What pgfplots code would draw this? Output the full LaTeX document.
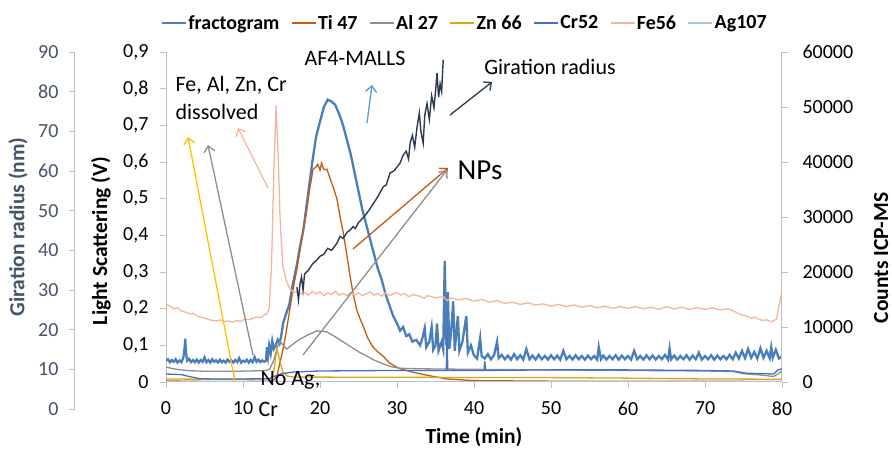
\documentclass[border=0pt]{standalone}
\usepackage{fontspec}
\setmainfont{Carlito}
\usepackage{pgfplots}
\pgfplotsset{compat=1.18}
\usetikzlibrary{arrows.meta}

\definecolor{fracblue}{HTML}{4A7EBB}
\definecolor{tiorange}{HTML}{C55A11}
\definecolor{algray}{HTML}{8E8E8E}
\definecolor{zngold}{HTML}{DBA514}
\definecolor{crblue}{HTML}{4472C4}
\definecolor{fesalmon}{HTML}{F4B59C}
\definecolor{aglav}{HTML}{AFC2E6}
\definecolor{girnavy}{HTML}{2B3A4E}
\definecolor{slate}{HTML}{44546A}
\definecolor{axgray}{HTML}{BFBFBF}
\definecolor{arrgold}{HTML}{FFC000}
\definecolor{arrblue}{HTML}{5B9BD5}

\pgfplotsset{
  common/.style={
    scale only axis, width=616pt, height=330pt,
    xmin=0, xmax=80,
    axis line style={axgray, line width=1pt},
    tick style={axgray, line width=0.8pt},
    tick align=outside, major tick length=6pt,
    ticklabel style={font=\fontsize{20}{24}\selectfont},
    label style={font=\bfseries\fontsize{21.5}{26}\selectfont},
    /pgf/number format/assume math mode=true,
    /pgf/number format/use comma,
    /pgf/number format/1000 sep={},
  },
}

\begin{document}
\begin{tikzpicture}
\useasboundingbox (0,0) rectangle (892pt,449pt);

% light scattering axis (fractogram)
\begin{axis}[common, at={(166pt,67pt)}, anchor=south west,
  ymin=0, ymax=0.9,
  ytick={0,0.1,0.2,0.3,0.4,0.5,0.6,0.7,0.8,0.9},
  yticklabel style={/pgf/number format/fixed, /pgf/number format/precision=1, xshift=-8pt},
  xticklabel style={yshift=-10pt},
  xtick={0,10,20,30,40,50,60,70,80},
  axis x line*=bottom, axis y line*=left,
  xlabel={Time (min)},
  x label style={at={(axis description cs:0.5,-0.167)}, anchor=center},
  ylabel={Light Scattering (V)},
  y label style={at={(axis description cs:-0.1055,0.427)}, anchor=center},
]
\addplot[fracblue, line width=2.3pt] coordinates {
(0,.058)(.25,.062)(.5,.054)(.75,.06)(1,.055)(1.25,.062)(1.5,.053)(1.75,.059)(2,.054)(2.25,.066)(2.4,.09)(2.5,.118)(2.6,.08)(2.75,.058)
(3,.063)(3.25,.054)(3.5,.06)(3.75,.054)(4,.061)(4.25,.053)(4.5,.06)(4.75,.055)(5,.067)(5.25,.054)(5.5,.06)(5.75,.053)(6,.062)(6.25,.055)
(6.5,.059)(6.75,.053)(7,.061)(7.25,.054)(7.5,.058)(7.75,.053)(8,.061)(8.25,.055)(8.5,.059)(8.75,.053)(9,.06)(9.25,.054)(9.5,.065)(9.75,.053)
(10,.058)(10.25,.055)(10.5,.061)(10.75,.053)(11,.06)(11.25,.054)(11.5,.068)(11.75,.055)(12,.061)(12.25,.054)(12.5,.059)(12.75,.055)
(13,.058)(13.1,.095)(13.25,.07)(13.4,.1)(13.6,.078)(13.8,.112)(14,.09)(14.25,.1)(14.5,.115)(14.75,.105)(15,.13)(15.2,.16)(15.5,.18)
(16,.21)(16.5,.27)(17,.32)(17.5,.38)(17.8,.41)(18,.44)(18.5,.52)(19,.6)(19.5,.67)(20,.71)(20.5,.75)(21,.77)(21.5,.765)(22,.755)
(22.5,.73)(23,.7)(23.5,.66)(24,.62)(24.5,.57)(25,.52)(25.5,.47)(26,.43)(26.5,.39)(27,.35)(27.5,.31)(28,.28)(28.5,.24)(29,.21)
(29.5,.18)(30,.16)(30.4,.14)(30.8,.15)(31.2,.125)(31.6,.13)(32,.11)(32.5,.115)(33,.1)(33.3,.12)(33.6,.147)(33.8,.095)(34.2,.11)
(34.5,.15)(34.7,.088)(35,.1)(35.2,.16)(35.4,.085)(35.8,.11)(36,.09)(36.2,.33)(36.4,.1)(36.6,.245)(36.8,.09)(37,.13)(37.3,.22)
(37.5,.085)(37.9,.18)(38.1,.085)(38.5,.11)(39,.18)(39.2,.08)(39.6,.1)(40,.072)(40.4,.064)(40.8,.12)(41,.07)(41.4,.064)(41.8,.076)
(42.2,.062)(42.6,.073)(43,.11)(43.2,.065)(43.6,.074)(44,.062)(44.4,.072)(44.8,.061)(45.2,.076)(45.6,.062)(46,.073)(46.4,.061)(46.8,.09)
(47.2,.062)(47.6,.072)(48,.061)(48.4,.074)(48.8,.062)(49.2,.071)(49.6,.061)(50,.073)(50.4,.062)(50.8,.072)(51.2,.061)(51.6,.085)(52,.062)
(52.4,.071)(52.8,.061)(53.2,.073)(53.6,.062)(54,.071)(54.4,.061)(54.8,.072)(55.2,.062)(55.6,.071)(56,.061)(56.2,.095)(56.5,.062)(56.8,.072)
(57.2,.061)(57.6,.071)(58,.062)(58.4,.073)(58.8,.061)(59.2,.072)(59.6,.062)(60,.071)(60.4,.061)(60.8,.085)(61.2,.062)(61.6,.071)(62,.061)
(62.4,.073)(62.8,.062)(63.2,.072)(63.6,.061)(64,.071)(64.4,.062)(64.8,.074)(65.2,.061)(65.4,.092)(65.6,.062)(66,.072)(66.4,.061)(66.8,.071)
(67.2,.062)(67.6,.073)(68,.061)(68.4,.072)(68.8,.062)(69.2,.08)(69.6,.061)(70,.071)(70.4,.062)(70.8,.073)(71.2,.061)(71.6,.072)(72,.062)
(72.4,.071)(72.8,.062)(73.2,.074)(73.6,.062)(74,.08)(74.4,.064)(74.8,.085)(75.2,.065)(75.6,.09)(76,.066)(76.4,.082)(76.8,.064)(77.2,.092)
(77.6,.066)(78,.085)(78.4,.065)(78.6,.095)(78.8,.066)(79.2,.088)(79.6,.064)(80,.07)};
\end{axis}

% ICP-MS counts axis
\begin{axis}[common, at={(166pt,67pt)}, anchor=south west,
  ymin=0, ymax=60000, ytick={0,10000,20000,30000,40000,50000,60000},
  scaled y ticks=false,
  yticklabel style={xshift=11pt},
  axis y line*=right, axis x line=none,
  ylabel={Counts ICP-MS},
  y label style={at={(axis description cs:1.161,0.376)}, anchor=center},
  legend columns=-1,
  legend style={at={(axis description cs:0.485,1.088)}, anchor=center, draw=none, fill=none,
    font=\bfseries\fontsize{20}{24}\selectfont,
    nodes={inner sep=1.5pt},
    /tikz/every even column/.append style={column sep=10pt}},
  legend image code/.code={\draw[#1, line width=1.6pt] (0pt,0pt) -- (24pt,0pt);},
]
\addlegendimage{fracblue}
\addlegendentry{fractogram}
\addplot[tiorange, line width=1.3pt] coordinates {
(0,200)(2,150)(5,100)(10,100)(13.5,150)(14,400)(14.4,1100)(14.8,3500)(15.2,6000)(15.6,9000)(16,12500)(16.5,16900)(17,20500)
(17.4,24000)(17.8,27300)(18.2,30500)(18.6,34500)(19.1,38700)(19.4,39000)(19.7,39600)(20,38500)(20.2,39800)(20.5,38600)(20.9,38700)
(21.3,37000)(21.7,35500)(22.2,33300)(22.6,30000)(23,27300)(23.5,23000)(23.9,19300)(24.3,16000)(24.8,13000)(25.2,11500)(25.6,10200)
(26.2,8000)(26.8,6500)(27.5,5500)(28.2,4700)(29,3500)(29.7,2900)(30.4,2400)(32,1800)(34,1200)(36.5,550)(40,250)(50,150)(80,100)};
\addlegendentry{Ti 47}
\addplot[algray, line width=1.3pt] coordinates {
(0,2700)(1,2400)(2,2200)(3,2050)(5,1950)(8.7,1950)(11,2000)(13,2100)(13.5,2400)(14,4000)(14.4,6000)(14.8,7400)(15.2,6700)(15.7,6000)
(16.5,6900)(17.4,7800)(18.5,8600)(19.6,9300)(20.9,9100)(22,8200)(23,7300)(23.9,6500)(25,5500)(26.1,4700)(27,4000)(28.2,3300)
(29.2,2800)(30.4,2500)(33,2400)(40,2300)(50,2200)(60,2100)(70,2000)(73.7,1900)(75,1500)(77,1300)(78.9,1000)(79.5,1500)(80,2000)};
\addlegendentry{Al 27}
\addplot[zngold, line width=1.3pt] coordinates {
(0,550)(5,500)(10,500)(13.5,600)(13.9,1100)(14.2,4000)(14.4,6000)(14.6,5000)(14.8,3600)(15.2,1800)(15.7,1100)(16.5,900)(30,850)
(50,800)(60,700)(70,550)(80,500)};
\addlegendentry{Zn 66}
\addplot[crblue, line width=1.3pt] coordinates {
(0,1450)(1,1400)(2,1350)(3,1000)(4.4,600)(6,550)(10,550)(13.5,600)(14,1000)(15,1500)(16.5,1800)(20,2000)(30,2100)(36.4,2100)
(36.5,9000)(36.6,2100)(41.3,2100)(41.4,3800)(41.5,2100)(50,2200)(60,2200)(70,2100)(73.7,2000)(75.4,1600)(78.9,1450)(79.5,2200)(80,2400)};
\addlegendentry{Cr52}
\addplot[fesalmon, line width=1.3pt] coordinates {
(0,14200)(0.5,13800)(1,13300)(1.5,13500)(2,12900)(2.5,12700)(3.1,12400)(3.5,12500)(4,12000)(4.5,11800)(5,11600)(5.5,11400)(6,11200)
(6.6,11100)(7,11300)(7.5,11000)(8,11100)(8.7,10900)(9.2,11200)(9.7,11000)(10.2,11400)(10.7,11300)(11.3,11600)(11.8,11800)(12.3,11700)
(12.7,12100)(13.1,12400)(13.4,13300)(13.7,21000)(14,38000)(14.3,50200)(14.6,40000)(14.8,30200)(15,25000)(15.2,21000)(15.6,18500)
(16.1,16900)(16.6,16300)(17,16400)(17.5,16000)(18,16300)(18.5,15800)(19,16500)(19.5,16000)(20,16400)(20.5,15700)(21,16200)(21.5,15900)
(22,16500)(22.5,15800)(23,16100)(23.5,15700)(24,16300)(24.5,15800)(25,16200)(25.5,15700)(26,16000)(26.5,16400)(27,15800)(27.5,16100)
(28,15600)(28.5,16200)(29,15700)(29.5,16000)(30,16300)(30.5,15800)(31,16100)(31.5,15500)(32,15900)(33,15600)(33.5,15200)(34,15700)
(35,15300)(36,15500)(36.5,14800)(37,15300)(38,14900)(39,15200)(40,14700)(41,15000)(42,14500)(43,14800)(44,14300)(45,14500)(46,14100)
(47,14400)(48,14000)(49,14200)(50,13800)(51,14100)(52,13700)(53,14000)(54,13600)(55,13900)(56,13500)(57,13800)(58,13400)(59,13700)
(60,13400)(61,13700)(62,13300)(63,13600)(64,13200)(65,13700)(66,13300)(67,13600)(68,13200)(69,13500)(70,13200)(71,13500)(72,13100)
(73,13300)(73.7,12900)(74.5,12300)(75.4,12000)(76,11600)(76.5,11800)(77,11400)(77.5,11200)(78,11300)(78.5,11000)(78.9,11100)
(79.3,11500)(79.7,14500)(80,16500)};
\addlegendentry{Fe56}
\addplot[aglav, line width=1.3pt] coordinates {(0,100)(80,100)};
\addlegendentry{Ag107}
\end{axis}

% giration radius data
\begin{axis}[common, at={(166pt,40pt)}, anchor=south west, height=357pt,
  ymin=0, ymax=90, hide axis]
\addplot[girnavy, line width=1.4pt] coordinates {
(17,30.7)(17.2,27.5)(17.4,31.5)(17.6,33.3)(17.8,30)(18,34)(18.5,35)(19,36.5)(19.6,37.6)(20,38.5)(20.5,39)(21,40.5)(21.5,40)
(22.2,41.8)(22.6,43.5)(23,43)(23.5,44.5)(23.9,45.1)(24.3,46)(24.6,45.5)(25,47)(25.5,48)(26.1,49.4)(26.5,50.5)(27,52)(27.5,53.5)
(28.2,56)(28.6,56.5)(29.1,59.5)(29.6,60)(30,61)(30.4,62)(30.8,64)(31.2,65)(31.5,63)(31.7,67)(32,69)(32.3,66)(32.6,71)(32.9,74.6)
(33.1,70)(33.4,67)(33.6,74)(33.9,77)(34.2,73)(34.5,79)(34.8,76)(35,80)(35.2,84.7)(35.4,78.6)(35.6,82)(35.8,80)(36,88)};
\end{axis}

% giration radius scale
\begin{axis}[common, at={(75pt,40pt)}, anchor=south west, width=1pt, height=357pt,
  xmin=0, xmax=1, ymin=0, ymax=90, ytick={0,10,20,30,40,50,60,70,80,90},
  axis y line*=left, axis x line=none,
  yticklabel style={slate, xshift=-7pt},
  ylabel={Giration radius (nm)},
  y label style={slate, at={(axis description cs:-57,0.51)}, anchor=center},
]
\addplot[draw=none] coordinates {(0,0)(1,90)};
\end{axis}

% annotations (picture coordinates, y measured from top)
\begin{scope}[x=1pt, y=-1pt, shift={(0pt,449pt)},
  font=\fontsize{22}{26}\selectfont, >={Straight Barb[length=6pt,width=11pt]}, line width=1.3pt]
\draw[->, arrgold] (235,382) -- (188,137);
\draw[->, algray] (253,355) -- (208,145);
\draw[->, fesalmon] (268,188) -- (238,128);
\draw[->, arrblue] (367,123) -- (372,85);
\draw[->, girnavy] (450,115) -- (492,82);
\draw[->, tiorange] (353,249) -- (448,168);
\draw[->, algray] (303,355) -- (447,170);
\node[anchor=west, inner sep=0pt] at (175,85) {Fe, Al, Zn, Cr};
\node[anchor=west, inner sep=0pt] at (175,112) {dissolved};
\node[inner sep=0pt] at (355,58) {AF4-MALLS};
\node[inner sep=0pt] at (550,67) {Giration radius};
\node[inner sep=0pt, font=\fontsize{29}{34}\selectfont] at (480,170) {NPs};
\node[anchor=west, inner sep=0pt] at (260,380) {No Ag,};
\node[anchor=west, inner sep=0pt] at (258,409) {Cr};
\end{scope}
\end{tikzpicture}
\end{document}
